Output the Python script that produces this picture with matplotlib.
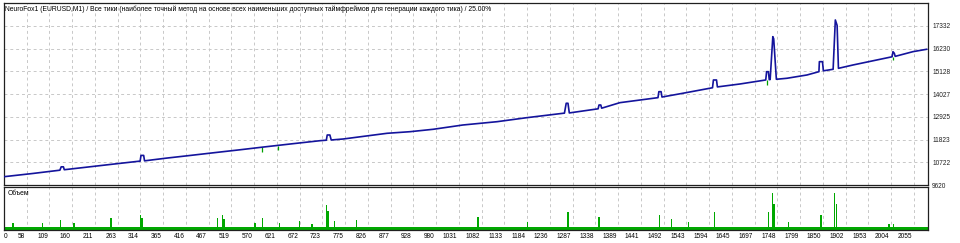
import numpy as np
import matplotlib.pyplot as plt
from matplotlib import font_manager
from matplotlib.transforms import blended_transform_factory, ScaledTranslation

names = {f.name for f in font_manager.fontManager.ttflist}
small_font = 'Liberation Sans Narrow' if 'Liberation Sans Narrow' in names else 'Liberation Sans'
plt.rcParams['font.family'] = [small_font, 'DejaVu Sans']

title = ("NeuroFox1 (EURUSD,M1) / Все тики (наиболее точный метод на основе всех наименьших "
         "доступных таймфреймов для генерации каждого тика) / 25.00%")

# balance curve (trade number, balance)
balance_x = [0, 65, 126, 129, 134, 136, 178, 239, 307, 309, 315, 317, 367, 413, 480, 532,
             584, 652, 713, 727, 729, 735, 738, 765, 864, 916, 968, 1035, 1112, 1179,
             1261, 1264, 1268, 1272, 1275, 1340, 1342, 1346, 1348, 1389, 1475, 1477,
             1482, 1484, 1531, 1598, 1600, 1607, 1609, 1660, 1718, 1720, 1724, 1726,
             1728, 1734, 1736, 1742, 1766, 1811, 1838, 1839, 1846, 1848, 1870, 1875,
             1879, 1882, 1915, 2003, 2005, 2008, 2010, 2050, 2081]
balance_y = [10022, 10178, 10337, 10500, 10500, 10360, 10463, 10613, 10778, 11053, 11053,
             10790, 10923, 11034, 11199, 11325, 11456, 11621, 11766, 11790, 12042, 12042,
             11800, 11848, 12124, 12202, 12318, 12526, 12686, 12880, 13093, 13100, 13578,
             13578, 13110, 13310, 13495, 13495, 13340, 13607, 13850, 14140, 14140, 13880,
             14062, 14330, 14706, 14706, 14370, 14512, 14706, 15108, 15108, 14720, 14730,
             16804, 16700, 14740, 14789, 14948, 15108, 15593, 15593, 15150, 15224, 17613,
             17350, 15270, 15433, 15830, 16077, 16000, 15850, 16077, 16193]

# equity drawdowns visible under the balance line
eq_x = [582, 618, 1721, 2005]
eq_top = [11456, 11530, 14706, 15835]
eq_low = [11220, 11315, 14464, 15675]

# volume spikes (fraction of panel)
vol_base = 0.07
vol_x = [20, 87, 128, 158, 241, 308, 311, 481, 493, 496, 566, 583, 622, 666, 695, 728, 731,
         745, 795, 1069, 1181, 1272, 1342, 1478, 1505, 1544, 1603, 1724, 1733, 1737, 1769,
         1843, 1873, 1877, 1996, 2006]
vol_h = [0.16, 0.16, 0.23, 0.16, 0.29, 0.34, 0.28, 0.28, 0.34, 0.26, 0.16, 0.28, 0.16, 0.22,
         0.15, 0.58, 0.45, 0.22, 0.24, 0.31, 0.18, 0.42, 0.31, 0.36, 0.26, 0.18, 0.42, 0.42,
         0.85, 0.61, 0.18, 0.36, 0.85, 0.61, 0.15, 0.15]

x_labels = ["0", "58", "109", "160", "211", "263", "314", "365", "416", "467", "519", "570",
            "621", "672", "723", "775", "826", "877", "928", "980", "1031", "1082", "1133",
            "1184", "1236", "1287", "1338", "1389", "1441", "1492", "1543", "1594", "1645",
            "1697", "1748", "1799", "1850", "1902", "1953", "2004", "2055"]
y_ticks = [9620, 10722, 11823, 12925, 14027, 15128, 16230, 17332]
y_top = 18434
x_step = 51.3
x_max = 2084

fs = 5.6 if small_font.endswith('Narrow') else 4.7
title_fs = 5.9 if small_font.endswith('Narrow') else 4.85

fig = plt.figure(figsize=(9.6, 2.43), dpi=100)
W, H = 960, 243
ax = fig.add_axes([4 / W, 1 - 185 / H, 924 / W, 182 / H])
vax = fig.add_axes([4 / W, 1 - 230 / H, 924 / W, 43 / H])

grid_kw = dict(color='#c8c8c8', lw=0.7, ls=(0, (3, 3)))
x_pos = np.arange(len(x_labels)) * x_step

for a in (ax, vax):
    a.set_xlim(0, x_max)
    for p in x_pos[1:]:
        a.axvline(p, zorder=0, **grid_kw)
    for s in a.spines.values():
        s.set_color('#202020')
        s.set_linewidth(0.9)
    a.set_xticks([])

ax.set_ylim(9620, y_top)
for v in y_ticks[1:]:
    ax.axhline(v, zorder=0, **grid_kw)
ax.yaxis.tick_right()
ax.set_yticks(y_ticks)
ax.set_yticklabels([str(v) for v in y_ticks])
ax.tick_params(axis='y', length=0, pad=3, labelsize=fs, colors='#202020')

ax.vlines(eq_x, eq_low, eq_top, color='#00a000', lw=0.9, zorder=2)
ax.plot(balance_x, balance_y, color='#14149c', lw=1.2, zorder=3)

vax.set_ylim(0, 1)
vax.set_yticks([])
vax.fill_between([0, x_max], 0, vol_base, color='#00a800', lw=0)
vax.bar(vol_x, vol_h, width=3, color='#00a800', lw=0)
vax.text(0.004, 0.86, "Объем", transform=vax.transAxes, fontsize=title_fs, va='center')

trans = blended_transform_factory(vax.transData, vax.transAxes)
off = ScaledTranslation(-1.5 / 100, 0, fig.dpi_scale_trans)
for i, (p, lab) in enumerate(zip(x_pos, x_labels)):
    if i == 0:
        vax.text(p, -0.16, lab, transform=trans, ha='left', va='center', fontsize=fs)
    else:
        vax.text(p, -0.16, lab, transform=trans + off, ha='right', va='center', fontsize=fs)

fig.text(5 / W, 1 - 9 / H, title, fontsize=title_fs, va='center', ha='left')

fig.savefig("out.png", dpi=100, facecolor='white')
